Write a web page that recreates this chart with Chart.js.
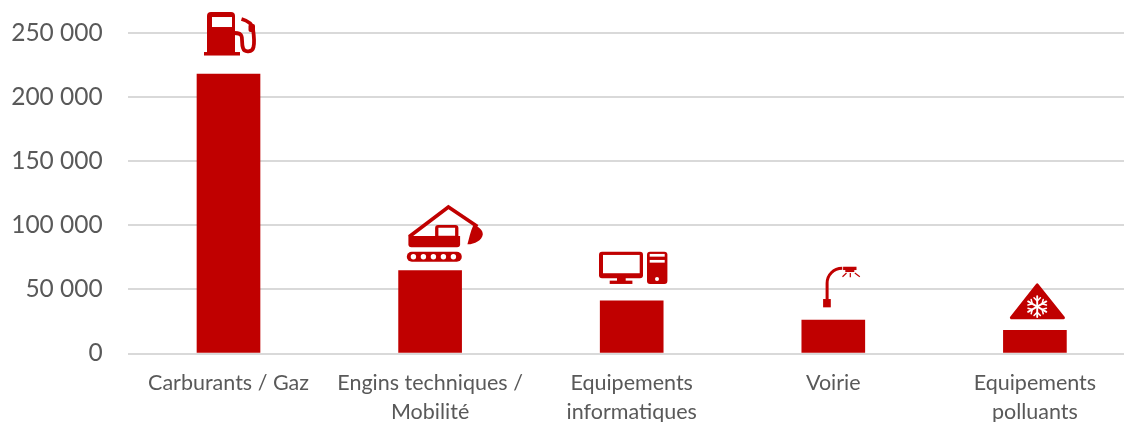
<!DOCTYPE html>
<html lang="fr">
<head>
<meta charset="utf-8">
<title>Postes d'émissions</title>
<script src="https://cdn.jsdelivr.net/npm/chart.js@4"></script>
<style>
  html, body { margin: 0; padding: 0; background: #fff; overflow: hidden; }
  #wrap { width: 1124px; height: 422px; overflow: hidden; }
</style>
</head>
<body>
<div id="wrap"><canvas id="chart" width="1140" height="422"></canvas></div>
<script>
const categories = [
  ["Carburants / Gaz"],
  ["Engins techniques /", "Mobilité"],
  ["Equipements", "informatiques"],
  ["Voirie"],
  ["Equipements", "polluants"]
];
const values = [218000, 64700, 41000, 26100, 18000];
const axisMax = 250000;
const axisStep = 50000;

const RED = "#C00000";
const TEXT = "#595959";
const GRID = "#D9D9D9";
const FONT = "Lato";

function rect(ctx, x0, y0, x1, y1, color) {
  ctx.fillStyle = color;
  ctx.fillRect(x0, y0, x1 - x0, y1 - y0);
}

function roundBox(ctx, x0, y0, x1, y1, r, color) {
  ctx.fillStyle = color;
  ctx.beginPath();
  ctx.roundRect(x0, y0, x1 - x0, y1 - y0, r);
  ctx.fill();
}

function line(ctx, pts, width) {
  ctx.lineWidth = width;
  ctx.beginPath();
  pts.forEach((p, i) => (i ? ctx.lineTo(p[0], p[1]) : ctx.moveTo(p[0], p[1])));
  ctx.stroke();
}

// icons are drawn with (0, 0) at the top centre of their bar
function drawPump(ctx) {
  roundBox(ctx, -21.5, -62, 6.5, -20, [4, 4, 0, 0], RED);
  rect(ctx, -24.5, -22, 11.5, -18.5, RED);
  rect(ctx, -16.5, -57, 3.5, -47, "#fff");
  ctx.lineWidth = 3.8;
  ctx.beginPath();
  ctx.moveTo(13, -55);
  ctx.bezierCurveTo(20, -53, 24, -50, 24.5, -45);
  ctx.bezierCurveTo(25.5, -38, 26, -31, 25, -27);
  ctx.bezierCurveTo(24, -22, 16, -21, 14.5, -26);
  ctx.bezierCurveTo(13, -30, 14, -36, 13, -38);
  ctx.bezierCurveTo(12, -41, 9, -41, 6, -41);
  ctx.stroke();
  // nozzle thickening at the top of the hose
  roundBox(ctx, 20, -50, 26.5, -42, 2, RED);
}

function drawExcavator(ctx) {
  ctx.lineJoin = "miter";
  line(ctx, [[-21, -33.8], [18.3, -63.6], [47.3, -44]], 3.6);
  ctx.fillStyle = RED;
  ctx.beginPath();
  ctx.moveTo(43.3, -45.5);
  ctx.bezierCurveTo(50, -43.5, 53, -39.5, 52.7, -36);
  ctx.bezierCurveTo(52, -30, 44, -26, 37.3, -26.2);
  ctx.bezierCurveTo(39, -32, 40, -38, 43.3, -45.5);
  ctx.fill();
  roundBox(ctx, -21.7, -34.5, 30, -23.2, [0, 0, 3, 3], RED);
  roundBox(ctx, 5, -45.5, 28.3, -33, [3, 3, 0, 0], RED);
  rect(ctx, 8.3, -42.8, 25, -34.8, "#fff");
  roundBox(ctx, -23.3, -18.8, 31.7, -8.8, 5, RED);
  ctx.fillStyle = "#fff";
  [-16.7, -6.7, 3.3, 13.3, 23.3].forEach(x => {
    ctx.beginPath();
    ctx.arc(x, -13.8, 2.7, 0, Math.PI * 2);
    ctx.fill();
  });
}

function drawComputer(ctx) {
  roundBox(ctx, -32.7, -49.3, 11.3, -22.7, 3, RED);
  rect(ctx, -28.7, -46, 8, -27.7, "#fff");
  rect(ctx, -14.7, -23, -6, -19.3, RED);
  rect(ctx, -22, -20.3, 0.7, -17, RED);
  roundBox(ctx, 15.3, -49.3, 35.7, -17, 3, RED);
  rect(ctx, 18, -47, 33, -44.3, "#fff");
  rect(ctx, 18, -41, 33, -38.3, "#fff");
  ctx.fillStyle = "#fff";
  ctx.beginPath();
  ctx.arc(25.3, -22, 2, 0, Math.PI * 2);
  ctx.fill();
}

function drawLamp(ctx) {
  ctx.lineWidth = 3;
  ctx.beginPath();
  ctx.moveTo(-6.2, -21);
  ctx.lineTo(-6.2, -36.7);
  ctx.bezierCurveTo(-6.2, -45, 0, -51.5, 9, -51.7);
  ctx.stroke();
  rect(ctx, -10.2, -21, -2.5, -12.7, RED);
  rect(ctx, 9.8, -53.3, 23.2, -50, RED);
  rect(ctx, 12, -50, 21, -48, RED);
  line(ctx, [[13.2, -47], [9.2, -43.3]], 1.2);
  line(ctx, [[17, -47], [17, -42.7]], 1.2);
  line(ctx, [[21.5, -47], [26.5, -43.3]], 1.2);
}

function drawCold(ctx) {
  ctx.fillStyle = RED;
  ctx.lineWidth = 3;
  ctx.lineJoin = "round";
  ctx.beginPath();
  ctx.moveTo(2.3, -45.5);
  ctx.lineTo(-23.5, -12.7);
  ctx.lineTo(28.5, -12.7);
  ctx.closePath();
  ctx.fill();
  ctx.stroke();
  // snowflake: six spokes with small side branches
  ctx.save();
  ctx.translate(2.3, -23.8);
  ctx.strokeStyle = "#fff";
  ctx.lineCap = "round";
  for (let i = 0; i < 6; i++) {
    line(ctx, [[0, 0], [0, -10.5]], 1.9);
    line(ctx, [[-3.2, -8.8], [0, -5.6], [3.2, -8.8]], 1.5);
    ctx.rotate(Math.PI / 3);
  }
  ctx.restore();
}

const icons = [drawPump, drawExcavator, drawComputer, drawLamp, drawCold];

const barIcons = {
  id: "barIcons",
  afterDatasetsDraw(chart) {
    const ctx = chart.ctx;
    chart.getDatasetMeta(0).data.forEach((bar, i) => {
      ctx.save();
      ctx.translate(bar.x, bar.y);
      ctx.strokeStyle = RED;
      icons[i](ctx);
      ctx.restore();
    });
  }
};

new Chart(document.getElementById("chart"), {
  type: "bar",
  data: {
    labels: categories,
    datasets: [{
      data: values,
      backgroundColor: RED,
      borderWidth: 0,
      barThickness: 63
    }]
  },
  options: {
    responsive: false,
    animation: false,
    layout: { padding: { top: 33, right: 4.3, left: 0, bottom: 0 } },
    plugins: { legend: { display: false }, tooltip: { enabled: false } },
    scales: {
      x: {
        grid: { display: false },
        border: { display: false },
        afterFit: s => { s.height = 68.5; },
        ticks: {
          color: TEXT,
          font: { family: FONT, size: 21.5, lineHeight: 1.35 },
          padding: 7,
          maxRotation: 0,
          autoSkip: false
        }
      },
      y: {
        min: 0,
        max: axisMax,
        afterFit: s => { s.width = 127.7; s.paddingTop = 0; s.paddingBottom = 0; },
        grid: { color: GRID, lineWidth: 2, drawTicks: false },
        border: { display: false },
        ticks: {
          stepSize: axisStep,
          color: TEXT,
          font: { family: FONT, size: 24.5 },
          padding: 25,
          callback: v => String(v).replace(/\B(?=(\d{3})+$)/g, " ")
        }
      }
    }
  },
  plugins: [barIcons]
});
</script>
</body>
</html>
